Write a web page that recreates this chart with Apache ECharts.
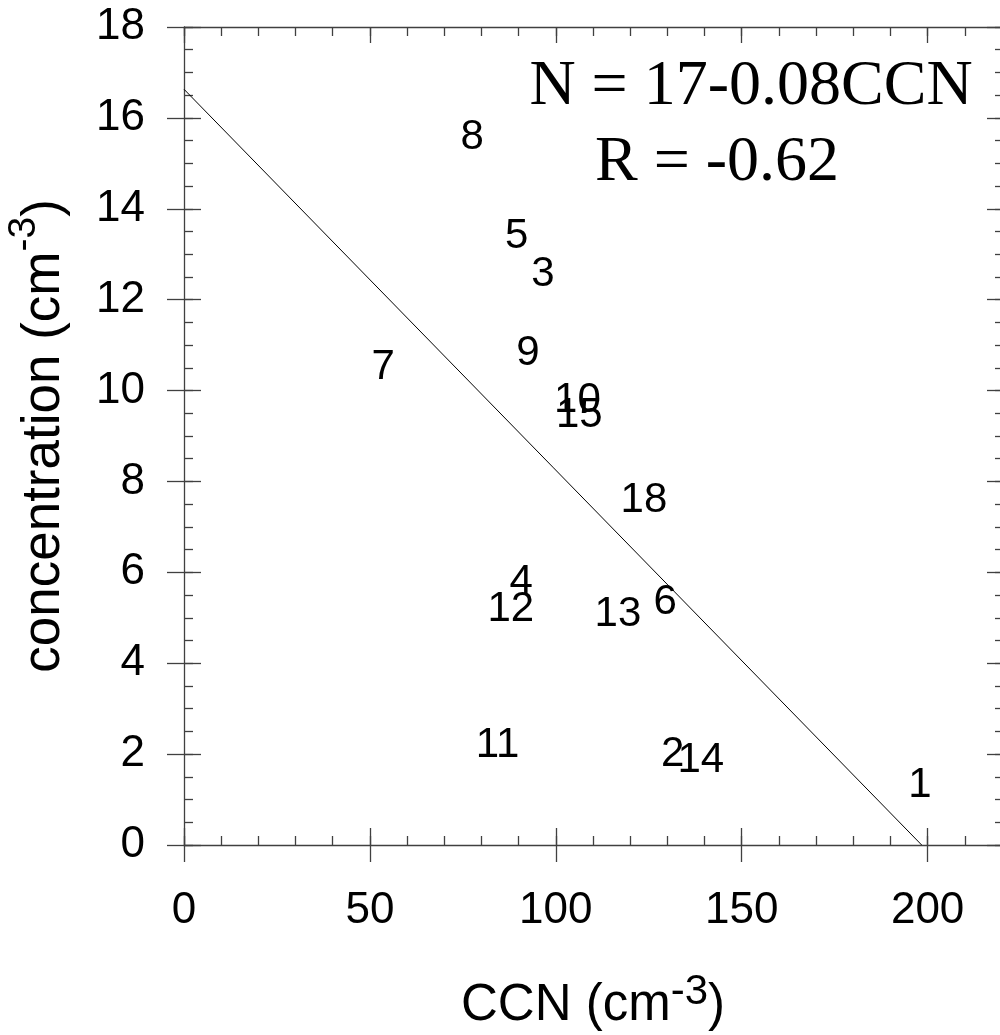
<!DOCTYPE html>
<html>
<head>
<meta charset="utf-8">
<script src="https://cdn.jsdelivr.net/npm/echarts@6/dist/echarts.min.js"></script>
<style>
  html, body { margin: 0; padding: 0; background: #fff; }
  #chart { width: 1000px; height: 1035px; }
</style>
</head>
<body>
<div id="chart"></div>
<script>
// Case numbers plotted as text at (CCN, concentration)
const caseIds = ['1', '2', '3', '4', '5', '6', '7', '8', '9', '10', '11', '12', '13', '14', '15', '18'];
const ccnValues = [197.9, 131.4, 96.5, 90.7, 89.5, 129.4, 53.6, 77.5, 92.5, 105.8, 84.3, 87.9, 116.7, 139.0, 106.3, 123.7];
const concValues = [1.31, 1.99, 12.56, 5.78, 13.39, 5.33, 10.50, 15.58, 10.81, 9.78, 2.20, 5.19, 5.08, 1.86, 9.45, 7.59];

// Least-squares fit line, drawn from the y axis down to the x axis
const fitLineCcn = [0, 198.4];
const fitLineConc = [16.63, 0];

// Axis ranges and tick steps
const xRange = [0, 220];
const xMajorStep = 50;
const xMinorStep = 10;
const yRange = [0, 18];
const yMajorStep = 2;
const yMinorStep = 0.5;

const equationText = 'N = 17-0.08CCN';
const correlationText = 'R = -0.62';

const AXIS_COLOR = '#404040';
const SANS = 'Liberation Sans, Arial, Helvetica, sans-serif';
const SERIF = 'Liberation Serif, Times New Roman, serif';

const points = caseIds.map((id, i) => ({ name: id, value: [ccnValues[i], concValues[i]] }));
const fitLine = fitLineCcn.map((x, i) => [x, fitLineConc[i]]);

function tickAxis(base, step, len, inside, showLine) {
  return Object.assign({
    type: 'value',
    gridIndex: 0,
    interval: step,
    axisLine: { show: !!showLine, onZero: false, lineStyle: { color: AXIS_COLOR, width: 1.3 } },
    axisTick: { show: true, inside: inside, length: len, lineStyle: { color: AXIS_COLOR, width: 1.3 } },
    axisLabel: { show: false },
    splitLine: { show: false }
  }, base);
}

const xBase = { min: xRange[0], max: xRange[1] };
const yBase = { min: yRange[0], max: yRange[1] };

const xAxes = [
  // bottom: labelled axis with outward major ticks
  Object.assign(tickAxis(Object.assign({ position: 'bottom' }, xBase), xMajorStep, 17, false, true), {
    axisLabel: {
      show: true, showMaxLabel: false, margin: 44,
      fontSize: 44, color: '#000', fontFamily: SANS
    },
    name: '{m|CCN (cm}{s|-3}{m|)}',
    nameLocation: 'middle',
    nameGap: 126,
    nameTextStyle: {
      fontFamily: SANS,
      rich: {
        m: { fontSize: 51, color: '#000', fontFamily: SANS, lineHeight: 60, verticalAlign: 'bottom' },
        s: { fontSize: 42, color: '#000', fontFamily: SANS, verticalAlign: 'top' }
      }
    }
  }),
  tickAxis(Object.assign({ position: 'bottom' }, xBase), xMajorStep, 17, true, false),
  tickAxis(Object.assign({ position: 'bottom' }, xBase), xMinorStep, 9, true, false),
  tickAxis(Object.assign({ position: 'top' }, xBase), xMajorStep, 16, true, true),
  tickAxis(Object.assign({ position: 'top' }, xBase), xMinorStep, 9, true, false)
];

const yAxes = [
  Object.assign(tickAxis(Object.assign({ position: 'left' }, yBase), yMajorStep, 17, false, true), {
    axisLabel: {
      show: true, margin: 39,
      fontSize: 44, color: '#000', fontFamily: SANS
    },
    name: '{m|concentration (cm}{s|-3}{m|)}',
    nameLocation: 'middle',
    nameGap: 113,
    nameTextStyle: {
      fontFamily: SANS,
      rich: {
        m: { fontSize: 53, color: '#000', fontFamily: SANS, lineHeight: 66, verticalAlign: 'bottom' },
        s: { fontSize: 39, color: '#000', fontFamily: SANS, verticalAlign: 'top' }
      }
    }
  }),
  tickAxis(Object.assign({ position: 'left' }, yBase), yMajorStep, 17, true, false),
  tickAxis(Object.assign({ position: 'left' }, yBase), yMinorStep, 9, true, false),
  tickAxis(Object.assign({ position: 'right' }, yBase), yMajorStep, 15, true, true),
  tickAxis(Object.assign({ position: 'right' }, yBase), yMinorStep, 7, true, false)
];

const chart = echarts.init(document.getElementById('chart'), null, { renderer: 'canvas' });

chart.setOption({
  animation: false,
  backgroundColor: '#fff',
  grid: {
    left: 184, top: 27, width: 818, height: 818,
    containLabel: false,
    outerBoundsMode: 'none'
  },
  xAxis: xAxes,
  yAxis: yAxes,
  graphic: [
    {
      type: 'text', x: 751, y: 87, silent: true,
      style: { text: equationText, font: '64px ' + SERIF, fill: '#000', textAlign: 'center', textVerticalAlign: 'middle' }
    },
    {
      type: 'text', x: 717, y: 163, silent: true,
      style: { text: correlationText, font: '64px ' + SERIF, fill: '#000', textAlign: 'center', textVerticalAlign: 'middle' }
    }
  ],
  series: [
    {
      type: 'line',
      xAxisIndex: 0, yAxisIndex: 0,
      data: fitLine,
      showSymbol: false,
      silent: true,
      lineStyle: { color: '#000', width: 1 }
    },
    {
      type: 'scatter',
      xAxisIndex: 0, yAxisIndex: 0,
      data: points,
      symbol: 'circle',
      symbolSize: 1,
      itemStyle: { color: 'rgba(0,0,0,0)', opacity: 1 },
      silent: true,
      label: {
        show: true,
        position: 'inside',
        formatter: '{b}',
        color: '#000',
        opacity: 1,
        fontSize: 42,
        fontFamily: SANS
      },
      labelLayout: { hideOverlap: false }
    }
  ]
});
</script>
</body>
</html>
